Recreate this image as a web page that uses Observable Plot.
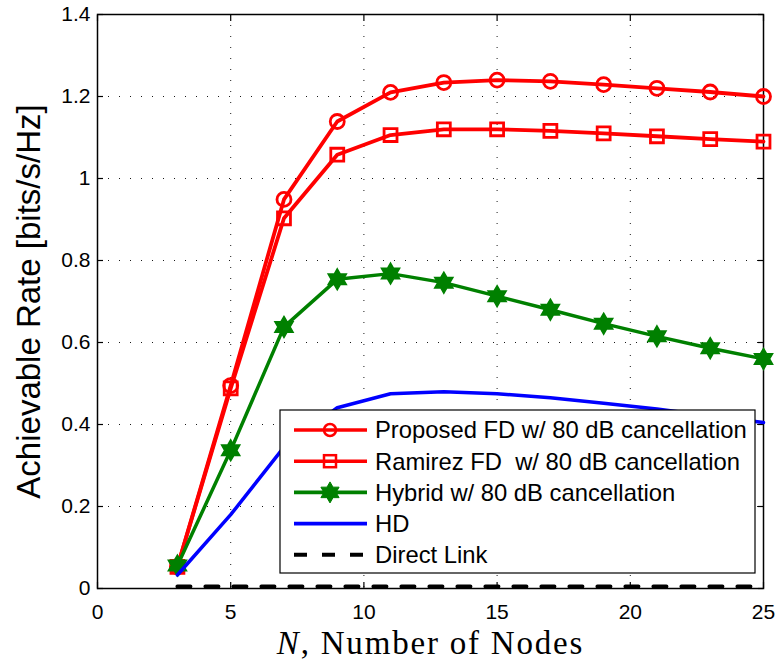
<!DOCTYPE html>
<html>
<head>
<meta charset="utf-8">
<script src="https://cdn.jsdelivr.net/npm/d3@7"></script>
<script src="https://cdn.jsdelivr.net/npm/@observablehq/plot@0.6"></script>
<style>
  body { margin: 0; background: #fff; }
  #chart { width: 779px; height: 662px; }
</style>
</head>
<body>
<div id="chart"></div>
<script>
// Number of nodes N
const nodes = [3, 5, 7, 9, 11, 13, 15, 17, 19, 21, 23, 25];

// Achievable rate [bits/s/Hz] per scheme
const proposedFD = [0.053, 0.495, 0.949, 1.139, 1.210, 1.234, 1.240, 1.237, 1.229, 1.220, 1.211, 1.200];
const ramirezFD  = [0.053, 0.488, 0.903, 1.058, 1.106, 1.120, 1.120, 1.116, 1.110, 1.103, 1.096, 1.090];
const hybrid     = [0.056, 0.337, 0.638, 0.754, 0.768, 0.746, 0.713, 0.680, 0.646, 0.615, 0.586, 0.560];
const halfDuplex = [0.033, 0.180, 0.345, 0.441, 0.475, 0.480, 0.475, 0.465, 0.452, 0.438, 0.421, 0.405];
const directLink = [0.005, 0.005, 0.005, 0.005, 0.005, 0.005, 0.005, 0.005, 0.005, 0.005, 0.005, 0.005];

const seriesNames = [
  "Proposed FD w/ 80 dB cancellation",
  "Ramirez FD  w/ 80 dB cancellation",
  "Hybrid w/ 80 dB cancellation",
  "HD",
  "Direct Link"
];

const xTicks = [0, 5, 10, 15, 20, 25];
const yTicks = [0, 0.2, 0.4, 0.6, 0.8, 1, 1.2, 1.4];
const xTitle = "N, Number of Nodes";
const yTitle = "Achievable Rate [bits/s/Hz]";

const RED = "#ff0000", GREEN = "#008000", BLUE = "#0000ff", BLACK = "#000000";

// Six-pointed star marker
const hexagram = {
  draw(ctx, size) {
    const R = Math.sqrt(size / Math.PI);
    const r = R / Math.sqrt(3);
    for (let i = 0; i < 12; i++) {
      const a = -Math.PI / 2 + i * Math.PI / 6;
      const rad = i % 2 ? r : R;
      const px = rad * Math.cos(a), py = rad * Math.sin(a);
      if (i === 0) ctx.moveTo(px, py); else ctx.lineTo(px, py);
    }
    ctx.closePath();
  }
};

const rows = (vals) => nodes.map((n, i) => ({n, v: vals[i]}));

const tickStyle = {tickFormat: () => "", label: null, stroke: BLACK, strokeWidth: 1.2};

const chart = Plot.plot({
  width: 779,
  height: 662,
  marginLeft: 97,
  marginRight: 16,
  marginTop: 14,
  marginBottom: 74,
  style: {fontFamily: "'Liberation Sans', Arial, sans-serif", color: BLACK, background: "#fff"},
  x: {domain: [0, 25], axis: null},
  y: {domain: [0, 1.4], axis: null},
  marks: [
    Plot.gridX(xTicks, {stroke: BLACK, strokeOpacity: 0.9, strokeWidth: 1, strokeDasharray: "1,10"}),
    Plot.gridY(yTicks, {stroke: BLACK, strokeOpacity: 0.9, strokeWidth: 1, strokeDasharray: "1,10"}),

    // inward tick marks on all four sides
    Plot.axisX(xTicks, {anchor: "bottom", tickSize: -6, ...tickStyle}),
    Plot.axisX(xTicks, {anchor: "top", tickSize: -6, ...tickStyle}),
    Plot.axisY(yTicks, {anchor: "left", tickSize: -6, ...tickStyle}),
    Plot.axisY(yTicks, {anchor: "right", tickSize: -6, ...tickStyle}),

    // tick labels
    Plot.axisX(xTicks, {anchor: "bottom", tickSize: 0, tickPadding: 16, fontSize: 21, label: null}),
    Plot.axisY(yTicks, {anchor: "left", tickSize: 0, tickPadding: 7, fontSize: 21, label: null,
      tickFormat: d => String(d)}),

    Plot.frame({stroke: BLACK, strokeWidth: 1.5}),

    // Proposed FD
    Plot.line(rows(proposedFD), {x: "n", y: "v", stroke: RED, strokeWidth: 3.8}),
    Plot.dot(rows(proposedFD), {x: "n", y: "v", symbol: "circle", r: 7, stroke: RED, strokeWidth: 2.8, fill: "none"}),
    // Ramirez FD
    Plot.line(rows(ramirezFD), {x: "n", y: "v", stroke: RED, strokeWidth: 3.8}),
    Plot.dot(rows(ramirezFD), {x: "n", y: "v", symbol: "square", r: 7.3, stroke: RED, strokeWidth: 2.8, fill: "none"}),
    // Hybrid
    Plot.line(rows(hybrid), {x: "n", y: "v", stroke: GREEN, strokeWidth: 3.5}),
    Plot.dot(rows(hybrid), {x: "n", y: "v", symbol: hexagram, r: 10.5, stroke: GREEN, strokeWidth: 1.5, fill: GREEN}),
    // Half duplex
    Plot.line(rows(halfDuplex), {x: "n", y: "v", stroke: BLUE, strokeWidth: 3.5}),
    // Direct link
    Plot.line(rows(directLink), {x: "n", y: "v", stroke: BLACK, strokeWidth: 4, strokeDasharray: "13,15"}),

    // axis titles
    Plot.text([xTitle], {text: d => d, frameAnchor: "bottom", dy: 55, fontSize: 33,
      fontFamily: "'Liberation Serif', 'Times New Roman', serif", lineAnchor: "middle"}),
    Plot.text([yTitle], {text: d => d, frameAnchor: "left", dx: -68, rotate: -90, fontSize: 33,
      textAnchor: "middle", lineAnchor: "middle"})
  ]
});

document.getElementById("chart").appendChild(chart);

const svg = d3.select(chart);

// italic N in the x-axis title, with the wider spacing of a TeX roman face
svg.selectAll("text").filter(function () { return this.textContent === xTitle; })
  .each(function () {
    const t = d3.select(this).style("letter-spacing", "1.8px");
    t.text("");
    t.append("tspan").attr("font-style", "italic").text("N");
    t.append("tspan").text(", Number of Nodes");
  });

// legend box
const legendStyles = [
  {stroke: RED, marker: "circle"},
  {stroke: RED, marker: "square"},
  {stroke: GREEN, marker: "hexagram"},
  {stroke: BLUE, marker: null},
  {stroke: BLACK, marker: null, dash: "13,15"}
];
const lg = svg.append("g").attr("transform", "translate(280,410)");
lg.append("rect").attr("width", 475).attr("height", 163)
  .attr("fill", "#fff").attr("stroke", BLACK).attr("stroke-width", 1.2);
seriesNames.forEach((name, i) => {
  const st = legendStyles[i];
  const row = lg.append("g").attr("transform", `translate(0,${20 + i * 31.2})`);
  row.append("line").attr("x1", 14).attr("x2", 87).attr("y1", 0).attr("y2", 0)
    .attr("stroke", st.stroke).attr("stroke-width", st.dash ? 4 : 3.6)
    .attr("stroke-dasharray", st.dash || null);
  if (st.marker === "circle") {
    row.append("circle").attr("cx", 50).attr("r", 6).attr("fill", "none")
      .attr("stroke", st.stroke).attr("stroke-width", 2.5);
  } else if (st.marker === "square") {
    row.append("rect").attr("x", 44).attr("y", -6).attr("width", 12).attr("height", 12)
      .attr("fill", "none").attr("stroke", st.stroke).attr("stroke-width", 2.5);
  } else if (st.marker === "hexagram") {
    row.append("path").attr("transform", "translate(50,0)")
      .attr("d", d3.symbol(hexagram, Math.PI * 10.5 * 10.5)())
      .attr("fill", st.stroke).attr("stroke", st.stroke).attr("stroke-width", 1);
  }
  row.append("text").attr("x", 95).attr("y", 0).attr("dy", "0.35em")
    .attr("font-size", 23.8).attr("fill", BLACK).attr("text-anchor", "start")
    .style("white-space", "pre")
    .text(name);
});
</script>
</body>
</html>
